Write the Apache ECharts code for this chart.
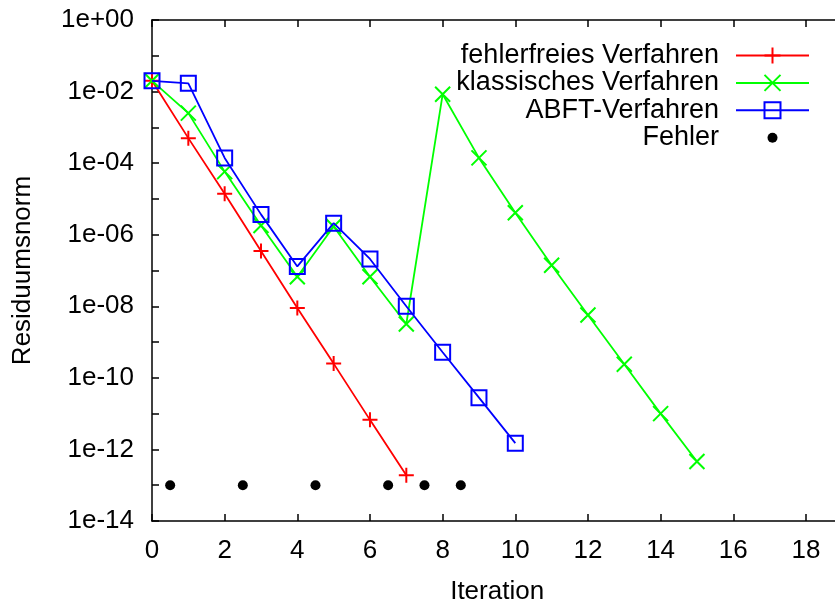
<!DOCTYPE html>
<html>
<head>
<meta charset="utf-8">
<script src="https://cdn.jsdelivr.net/npm/echarts@6/dist/echarts.min.js"></script>
<style>
  html, body { margin: 0; padding: 0; background: #fff; }
  #chart { width: 835px; height: 606px; }
</style>
</head>
<body>
<div id="chart"></div>
<script>
// Residual norm per iteration for the three solver variants
const iterFehlerfrei = [0, 1, 2, 3, 4, 5, 6, 7];
const fehlerfrei = [2e-2, 5e-4, 1.4e-5, 3.5e-7, 9e-9, 2.5e-10, 6.7e-12, 1.9e-13];

const iterKlassisch = [0, 1, 2, 3, 4, 5, 6, 7, 8, 9, 10, 11, 12, 13, 14, 15];
const klassisch = [2e-2, 2.5e-3, 5.8e-5, 1.8e-6, 6.7e-8, 1.7e-6, 6.7e-8, 3.2e-9,
                   8.4e-3, 1.4e-4, 4.1e-6, 1.4e-7, 5.7e-9, 2.4e-10, 1.0e-11, 4.6e-13];

const iterAbft = [0, 1, 2, 3, 4, 5, 6, 7, 8, 9, 10];
const abft = [2e-2, 1.7e-2, 1.4e-4, 3.7e-6, 1.3e-7, 2.1e-6, 2.1e-7, 1.0e-8, 5.2e-10, 2.8e-11, 1.5e-12];

// Injected faults (between iterations)
const fehlerX = [0.5, 2.5, 4.5, 6.5, 7.5, 8.5];
const fehlerY = [1e-13, 1e-13, 1e-13, 1e-13, 1e-13, 1e-13];

const seriesNames = ['fehlerfreies Verfahren', 'klassisches Verfahren', 'ABFT-Verfahren', 'Fehler'];
const xTicks = [0, 2, 4, 6, 8, 10, 12, 14, 16, 18];

const FONT = '"Liberation Sans", Arial, Helvetica, sans-serif';
const FS = 26;

function zip(xs, ys) { return xs.map((x, i) => [x, ys[i]]); }

function expLabel(v) {
  const e = Math.round(Math.log10(v));
  if (e % 2 !== 0) return '';
  const a = Math.abs(e);
  return '1e' + (e >= 0 ? '+' : '-') + (a < 10 ? '0' + a : '' + a);
}

const plusSym = 'path://M1,0L1,2M0,1L2,1';
const crossSym = 'path://M0,0L2,2M0,2L2,0';
const squareSym = 'path://M0,0L2,0L2,2L0,2Z';
// small dot centred in the legend icon box (73 x 20)
const dotIcon = 'path://M0,0L0,0M73,20L73,20M41.5,10A5,5,0,1,1,31.5,10A5,5,0,1,1,41.5,10Z';

const chart = echarts.init(document.getElementById('chart'), null, { renderer: 'canvas' });

const axisLineStyle = { color: '#000', width: 1.5 };

chart.setOption({
  animation: false,
  backgroundColor: '#fff',
  textStyle: { fontFamily: FONT },
  // plot box runs past the right edge of the canvas
  grid: {
    left: 152, top: 20, width: 19 * 36.33, height: 501,
    containLabel: false,
    outerBoundsMode: 'none'
  },
  legend: {
    orient: 'vertical',
    align: 'right',
    right: 25,
    top: 42,
    padding: 0,
    itemWidth: 73,
    itemHeight: 20,
    itemGap: 0.4,
    textStyle: { fontSize: 27, fontFamily: FONT, color: '#000', padding: [0, 12, 0, 0] },
    data: [
      { name: seriesNames[0] },
      { name: seriesNames[1] },
      { name: seriesNames[2] },
      { name: seriesNames[3], icon: dotIcon }
    ]
  },
  xAxis: [
    {
      type: 'value',
      min: 0, max: 19, interval: 2,
      position: 'bottom',
      name: 'Iteration',
      nameLocation: 'middle',
      nameGap: 58,
      nameTextStyle: { fontSize: FS, fontFamily: FONT, color: '#000' },
      axisLine: { show: true, onZero: false, lineStyle: axisLineStyle },
      axisTick: { show: true, inside: true, length: 7, lineStyle: axisLineStyle },
      axisLabel: {
        fontSize: FS, fontFamily: FONT, color: '#000', margin: 17,
        formatter: v => (xTicks.indexOf(v) >= 0 ? String(v) : '')
      },
      splitLine: { show: false }
    },
    {
      type: 'value',
      min: 0, max: 19, interval: 2,
      position: 'top',
      axisLine: { show: true, onZero: false, lineStyle: axisLineStyle },
      axisTick: { show: true, inside: true, length: 7, lineStyle: axisLineStyle },
      axisLabel: { show: false },
      splitLine: { show: false }
    }
  ],
  yAxis: {
    type: 'log',
    logBase: 10,
    min: 1e-14, max: 1, interval: 1,
    name: 'Residuumsnorm',
    nameLocation: 'middle',
    nameGap: 116,
    nameRotate: 90,
    nameTextStyle: { fontSize: FS, fontFamily: FONT, color: '#000' },
    axisLine: { show: true, onZero: false, lineStyle: axisLineStyle },
    axisTick: { show: true, inside: true, length: 7, lineStyle: axisLineStyle },
    axisLabel: { fontSize: FS, fontFamily: FONT, color: '#000', margin: 18, formatter: expLabel },
    splitLine: { show: false },
    minorTick: { show: false }
  },
  series: [
    {
      name: seriesNames[0],
      type: 'line',
      data: zip(iterFehlerfrei, fehlerfrei),
      color: '#ff0000',
      symbol: plusSym,
      symbolSize: 15,
      showAllSymbol: true,
      lineStyle: { color: '#ff0000', width: 1.8 },
      itemStyle: { color: 'none', borderColor: '#ff0000', borderWidth: 2 },
      z: 3
    },
    {
      name: seriesNames[1],
      type: 'line',
      data: zip(iterKlassisch, klassisch),
      color: '#00ff00',
      symbol: crossSym,
      symbolSize: 15,
      showAllSymbol: true,
      lineStyle: { color: '#00ff00', width: 1.8 },
      itemStyle: { color: 'none', borderColor: '#00ff00', borderWidth: 2 },
      z: 4
    },
    {
      name: seriesNames[2],
      type: 'line',
      data: zip(iterAbft, abft),
      color: '#0000ff',
      symbol: squareSym,
      symbolSize: 15,
      showAllSymbol: true,
      lineStyle: { color: '#0000ff', width: 1.8 },
      itemStyle: { color: 'none', borderColor: '#0000ff', borderWidth: 2 },
      z: 5
    },
    {
      name: seriesNames[3],
      type: 'scatter',
      data: zip(fehlerX, fehlerY),
      color: '#000',
      symbol: 'circle',
      symbolSize: 10,
      itemStyle: { color: '#000', opacity: 1 },
      z: 6
    }
  ]
});
</script>
</body>
</html>
